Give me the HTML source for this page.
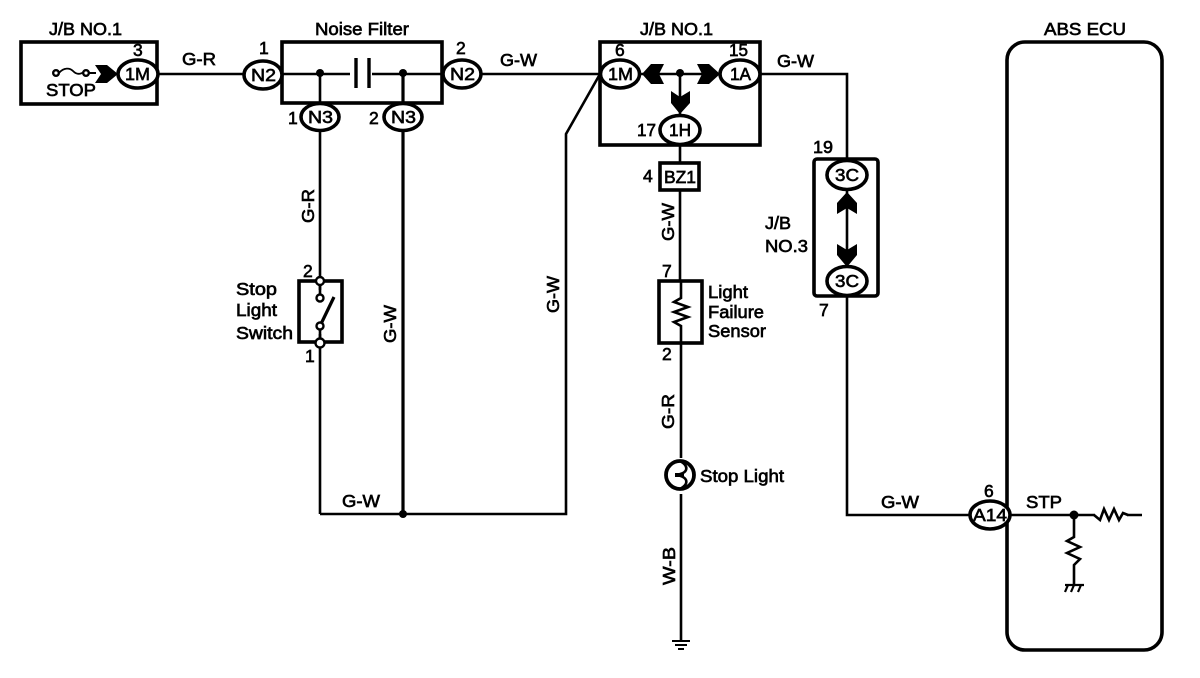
<!DOCTYPE html>
<html><head><meta charset="utf-8"><style>
html,body{margin:0;padding:0;background:#fff}
svg{display:block}
text{font-family:"Liberation Sans",sans-serif;font-size:17.5px;fill:#000;stroke:#000;stroke-width:.65px}
.w{fill:none;stroke:#000;stroke-width:2.6}
.b{fill:none;stroke:#000;stroke-width:3.6}
.c{fill:#fff;stroke:#000;stroke-width:3.6}
.o{fill:#fff;stroke:#000;stroke-width:2.4}
</style></head><body>
<svg width="1200" height="678" viewBox="0 0 1200 678" xmlns="http://www.w3.org/2000/svg">
<!-- wires -->
<path class="w" d="M158 74H244M282 74H350M372 74H443M481 74H600M640 74H720M760 74H847V159"/>
<path class="w" d="M320 74V514M320 514H566V134L600 74"/>
<path d="M403 74V514" fill="none" stroke="#000" stroke-width="3.200"/>
<path class="w" d="M680 74V116M680 145V162M680 190V281M681 343V640"/>
<path class="w" d="M847 189V266M847 296V515H970M1008 515H1142"/>
<!-- boxes -->
<rect class="b" x="21" y="42" width="136" height="62"/>
<rect class="b" x="282" y="42" width="160" height="61"/>
<rect class="b" x="600" y="42" width="160" height="103"/>
<rect class="b" x="660" y="163" width="39" height="27" />
<rect class="b" x="814" y="159" width="64" height="137" rx="3"/>
<rect class="b" x="299" y="281" width="43" height="61" fill="#fff"/>
<rect class="b" x="659" y="281" width="43" height="62"/>
<rect class="b" x="1007" y="42" width="155" height="608" rx="18"/>
<!-- capacitor -->
<rect x="356" y="60" width="13" height="28" fill="#fff"/>
<path d="M356 58V88M369 58V88" stroke="#000" stroke-width="3.400" fill="none"/>
<!-- connectors -->
<ellipse class="c" cx="138" cy="74" rx="20" ry="14"/>
<ellipse class="c" cx="263" cy="75" rx="19" ry="14"/>
<ellipse class="c" cx="462" cy="74" rx="19" ry="14"/>
<ellipse class="c" cx="320" cy="117" rx="19" ry="13.500"/>
<ellipse class="c" cx="403" cy="117" rx="19" ry="13.500"/>
<ellipse class="c" cx="620" cy="74" rx="19.500" ry="14"/>
<ellipse class="c" cx="740" cy="74" rx="20" ry="14"/>
<ellipse class="c" cx="680" cy="130" rx="20" ry="14.500"/>
<ellipse class="c" cx="847" cy="175" rx="20" ry="14.500"/>
<ellipse class="c" cx="847" cy="281" rx="20" ry="14.500"/>
<ellipse class="c" cx="990" cy="515" rx="20" ry="14"/>
<!-- junction dots -->
<circle cx="320" cy="73" r="4"/><circle cx="403" cy="73" r="4"/>
<circle cx="680" cy="73" r="4"/><circle cx="403" cy="514" r="4"/>
<circle cx="1074" cy="515" r="4.500"/>
<!-- arrows -->
<polygon points="95,65 107,65 118,74 107,83 95,83 101,74"/>
<polygon points="642,74 651,64 664,64 659,74 664,84 651,84"/>
<polygon points="720,74 709,64 697,64 702,74 697,84 709,84"/>
<polygon points="680,114 671,103 671,91 680,97 690,91 690,103"/>
<polygon points="847,192 837,203 837,214 847,208 857,214 857,203"/>
<polygon points="847,267 837,255 837,244 847,250 857,244 857,255"/>
<!-- fuse -->
<path d="M59 73C64 67 70 68 73 71S79 75 84 72" fill="none" stroke="#000" stroke-width="1.800"/>
<circle cx="56" cy="73" r="2.800" class="o" stroke-width="1.800"/>
<circle cx="86" cy="73" r="2.800" class="o" stroke-width="1.800"/>
<path d="M89 73H96" stroke="#000" stroke-width="2"/>
<!-- switch -->
<rect x="316" y="290" width="8" height="44" fill="#fff"/>
<path class="w" d="M320 281V298M320 326V342"/>
<path d="M320 326L334 297" stroke="#000" stroke-width="3.200" fill="none"/>
<circle class="o" cx="320" cy="281" r="4"/>
<circle class="o" cx="320" cy="298" r="3.500"/>
<circle class="o" cx="320" cy="326" r="3.500"/>
<circle class="o" cx="320" cy="343" r="4.500"/>
<!-- sensor resistor -->
<rect x="675" y="297" width="12" height="32" fill="#fff"/>
<path class="w" d="M681 281V298L674 302L688 307L674 312L688 317L674 322L681 326V343"/>
<!-- stop light -->
<rect x="664" y="458" width="34" height="36" fill="#fff"/>
<circle cx="680" cy="475" r="14" fill="#fff" stroke="#000" stroke-width="3.800"/>
<path class="w" d="M680 461C689 466 689 473 676 475C689 477 689 484 680 489"/>
<path d="M675 473H684V477H675Z"/>
<!-- ground -->
<path d="M672 641H690M675 645H687M678 649H684" stroke="#000" stroke-width="2" fill="none"/>
<!-- ecu resistors -->
<rect x="1095" y="505" width="32" height="20" fill="#fff"/>
<path class="w" d="M1094 515L1100 520L1104 509L1109 520L1114 509L1119 520L1123 513L1128 515"/>
<rect x="1066" y="538" width="16" height="32" fill="#fff"/>
<path class="w" d="M1074 515V537L1067 541L1080 547L1067 553L1080 559L1074 565V584"/>
<path d="M1065 585H1084M1068 585L1065 592M1074 585L1071 592M1081 585L1078 592" stroke="#000" stroke-width="2.200" fill="none"/>
<!-- labels -->
<text x="49" y="35" textLength="73" lengthAdjust="spacingAndGlyphs">J/B NO.1</text>
<text x="315" y="35" textLength="94" lengthAdjust="spacingAndGlyphs">Noise Filter</text>
<text x="640" y="35" textLength="73" lengthAdjust="spacingAndGlyphs">J/B NO.1</text>
<text x="1044" y="35" textLength="82" lengthAdjust="spacingAndGlyphs">ABS ECU</text>
<text x="133" y="56">3</text>
<text x="46" y="96" textLength="50" lengthAdjust="spacingAndGlyphs">STOP</text>
<text x="182" y="65" textLength="34" lengthAdjust="spacingAndGlyphs">G-R</text>
<text x="259" y="54">1</text>
<text x="456" y="54">2</text>
<text x="500" y="66" textLength="37" lengthAdjust="spacingAndGlyphs">G-W</text>
<text x="615" y="56">6</text>
<text x="729" y="56" textLength="19" lengthAdjust="spacingAndGlyphs">15</text>
<text x="777" y="67" textLength="37" lengthAdjust="spacingAndGlyphs">G-W</text>
<text x="288" y="124">1</text>
<text x="369" y="124">2</text>
<text x="637" y="136" textLength="19" lengthAdjust="spacingAndGlyphs">17</text>
<text x="643" y="182">4</text>
<text x="813" y="153" textLength="20" lengthAdjust="spacingAndGlyphs">19</text>
<text x="303" y="277">2</text>
<text x="305" y="362">1</text>
<text x="236" y="295" textLength="41" lengthAdjust="spacingAndGlyphs">Stop</text>
<text x="236" y="316" textLength="41" lengthAdjust="spacingAndGlyphs">Light</text>
<text x="236" y="339" textLength="57" lengthAdjust="spacingAndGlyphs">Switch</text>
<text x="662" y="277">7</text>
<text x="662" y="360">2</text>
<text x="708" y="298" textLength="40" lengthAdjust="spacingAndGlyphs">Light</text>
<text x="708" y="318" textLength="56" lengthAdjust="spacingAndGlyphs">Failure</text>
<text x="708" y="337" textLength="58" lengthAdjust="spacingAndGlyphs">Sensor</text>
<text x="700" y="482" textLength="84" lengthAdjust="spacingAndGlyphs">Stop Light</text>
<text x="765" y="229" textLength="26" lengthAdjust="spacingAndGlyphs">J/B</text>
<text x="765" y="252" textLength="43" lengthAdjust="spacingAndGlyphs">NO.3</text>
<text x="819" y="316">7</text>
<text x="881" y="508" textLength="38" lengthAdjust="spacingAndGlyphs">G-W</text>
<text x="342" y="507" textLength="38" lengthAdjust="spacingAndGlyphs">G-W</text>
<text x="984" y="497">6</text>
<text x="1026" y="508" textLength="36" lengthAdjust="spacingAndGlyphs">STP</text>
<!-- connector labels -->
<text x="125" y="80" textLength="25" lengthAdjust="spacingAndGlyphs">1M</text>
<text x="251" y="81" textLength="25" lengthAdjust="spacingAndGlyphs">N2</text>
<text x="450" y="80" textLength="25" lengthAdjust="spacingAndGlyphs">N2</text>
<text x="308" y="123" textLength="25" lengthAdjust="spacingAndGlyphs">N3</text>
<text x="391" y="123" textLength="25" lengthAdjust="spacingAndGlyphs">N3</text>
<text x="608" y="80" textLength="25" lengthAdjust="spacingAndGlyphs">1M</text>
<text x="730" y="80" textLength="21" lengthAdjust="spacingAndGlyphs">1A</text>
<text x="669" y="136" textLength="22" lengthAdjust="spacingAndGlyphs">1H</text>
<text x="664" y="183" textLength="32" lengthAdjust="spacingAndGlyphs">BZ1</text>
<text x="835" y="181" textLength="24" lengthAdjust="spacingAndGlyphs">3C</text>
<text x="835" y="287" textLength="24" lengthAdjust="spacingAndGlyphs">3C</text>
<text x="973" y="521" textLength="34" lengthAdjust="spacingAndGlyphs">A14</text>
<!-- vertical labels -->
<text transform="translate(314,223) rotate(-90)" textLength="34" lengthAdjust="spacingAndGlyphs">G-R</text>
<text transform="translate(396,343) rotate(-90)" textLength="38" lengthAdjust="spacingAndGlyphs">G-W</text>
<text transform="translate(559,313) rotate(-90)" textLength="37" lengthAdjust="spacingAndGlyphs">G-W</text>
<text transform="translate(674,241) rotate(-90)" textLength="38" lengthAdjust="spacingAndGlyphs">G-W</text>
<text transform="translate(674,429) rotate(-90)" textLength="35" lengthAdjust="spacingAndGlyphs">G-R</text>
<text transform="translate(675,585) rotate(-90)" textLength="38" lengthAdjust="spacingAndGlyphs">W-B</text>
</svg>
</body></html>
